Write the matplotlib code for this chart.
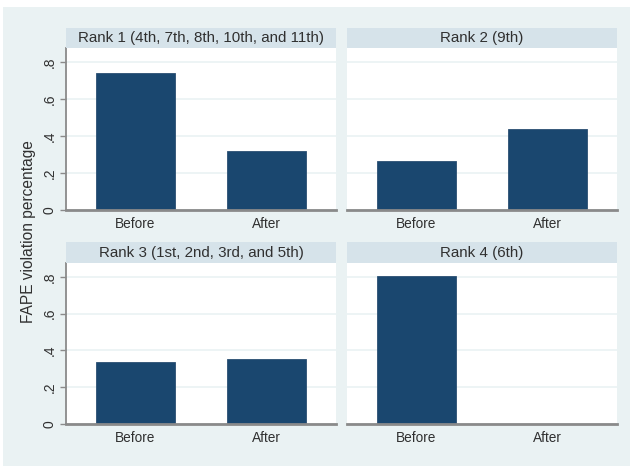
import numpy as np
import matplotlib.pyplot as plt
from matplotlib.patches import Rectangle

plt.rcParams['font.family'] = ['Liberation Sans', 'DejaVu Sans']

# violation share before/after, one panel per rank
periods = ['Before', 'After']
rank_titles = ['Rank 1 (4th, 7th, 8th, 10th, and 11th)', 'Rank 2 (9th)',
               'Rank 3 (1st, 2nd, 3rd, and 5th)', 'Rank 4 (6th)']
rank1 = [0.742, 0.319]
rank2 = [0.266, 0.440]
rank3 = [0.336, 0.352]
rank4 = [0.804, 0.0]
values = [rank1, rank2, rank3, rank4]
yticks = [0, 0.2, 0.4, 0.6, 0.8]
ytick_labels = ['0', '.2', '.4', '.6', '.8']

W, H = 634, 466
bg = '#EAF2F3'
strip = '#D6E3EA'
navy = '#1A476F'
axis_gray = '#8A8A8A'
txt = '#303030'

fig = plt.figure(figsize=(W / 100, H / 100), dpi=100, facecolor='white')
fig.patches.append(Rectangle((3 / W, 0), 627 / W, 1 - 7 / H, transform=fig.transFigure,
                             facecolor=bg, edgecolor='none', zorder=-10))

def px(x0, y0, x1, y1):
    return [x0 / W, 1 - y1 / H, (x1 - x0) / W, (y1 - y0) / H]

cols = [(66, 336), (347, 617)]
rows = [(28, 48, 210), (242, 263, 424)]

for i, (title, vals) in enumerate(zip(rank_titles, values)):
    r, c = divmod(i, 2)
    x0, x1 = cols[c]
    ht, pt, pb = rows[r]
    ax = fig.add_axes(px(x0, pt, x1, pb))
    ax.set_facecolor('white')
    ax.bar(np.arange(len(periods)), vals, width=0.6, color=navy,
           edgecolor='#2B4F72', linewidth=0.6, zorder=3)
    ax.set_xlim(-0.53, 1.53)
    ax.set_ylim(0, 0.876)
    ax.set_yticks(yticks)
    ax.grid(axis='y', color=bg, linewidth=1.2, zorder=0)
    ax.set_xticks(np.arange(len(periods)))
    ax.set_xticklabels(periods, fontsize=9.8, color=txt)
    ax.tick_params(axis='x', length=0, pad=5)
    for s in ['top', 'right']:
        ax.spines[s].set_visible(False)
    ax.spines['bottom'].set_color(axis_gray)
    ax.spines['bottom'].set_linewidth(2)
    ax.spines['bottom'].set_zorder(4)
    if c == 0:
        ax.set_yticklabels(ytick_labels, fontsize=10, color=txt,
                           rotation=90, va='center')
        ax.tick_params(axis='y', length=4, width=1, color=axis_gray, pad=3)
        ax.spines['left'].set_color(axis_gray)
        ax.spines['left'].set_linewidth(1.3)
    else:
        ax.spines['left'].set_visible(False)
        ax.tick_params(axis='y', length=0, labelleft=False)

    sax = fig.add_axes(px(x0, ht, x1, pt))
    sax.set_facecolor(strip)
    sax.set_xticks([])
    sax.set_yticks([])
    for s in sax.spines.values():
        s.set_visible(False)
    sax.text(0.5, 0.5, title, ha='center', va='center', fontsize=10.9,
             color=txt, transform=sax.transAxes)

fig.text(28 / W, 1 - 232 / H, 'FAPE violation percentage', rotation=90,
         ha='center', va='center', fontsize=11.2, color=txt)

fig.savefig('out.png', dpi=100, facecolor='white')
